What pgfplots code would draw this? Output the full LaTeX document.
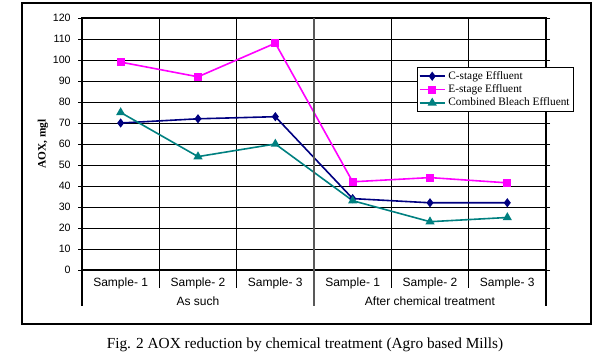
\documentclass[border=0pt]{standalone}
\usepackage{pgfplots}
\pgfplotsset{compat=1.18}
\usepackage{fontspec}
\setmainfont{Liberation Serif}
\setsansfont{Liberation Sans}
\definecolor{cnavy}{RGB}{0,0,128}
\definecolor{cmag}{RGB}{255,0,255}
\definecolor{cteal}{RGB}{0,128,128}
\begin{document}
\begin{tikzpicture}[x=1pt,y=1pt]
\useasboundingbox (0,0) rectangle (456.75,264);
\draw[line width=1.5pt] (16.5,21) rectangle (443.25,261.75);
\begin{axis}[
  at={(61.5pt,61.5pt)}, anchor=south west,
  scale only axis, width=348pt, height=189pt,
  xmin=0, xmax=6, ymin=0, ymax=120,
  ytick={0,10,...,120},
  xtick={0.5,1.5,2.5,3.5,4.5,5.5},
  xticklabels={Sample- 1,Sample- 2,Sample- 3,Sample- 1,Sample- 2,Sample- 3},
  minor xtick={1,2,3,4,5},
  xminorgrids, ymajorgrids,
  grid style={black, line width=0.6pt},
  minor grid style={black, line width=0.6pt},
  major x tick style={draw=none},
  minor x tick style={draw=none},
  y tick style={black, line width=0.6pt},
  ytick align=outside, major tick length=3pt,
  axis line style={black, line width=0.8pt},
  y tick label style={font=\sffamily\fontsize{8}{9}\selectfont, xshift=-2pt},
  x tick label style={font=\sffamily\fontsize{9}{10}\selectfont, yshift=-2pt},
  /pgf/number format/assume math mode=true,
  ylabel={AOX, mgl},
  ylabel style={at={(axis description cs:-0.084,0.5)}, anchor=center, font=\bfseries\fontsize{8.5}{10}\selectfont},
  clip=false,
  legend style={at={(rel axis cs:0.722,0.806)}, anchor=north west,
    font=\fontsize{8.5}{9.5}\selectfont, draw=black, line width=0.6pt,
    inner sep=1pt, row sep=-1.5pt, cells={anchor=west}},
  legend image code/.code={\draw[#1] (0pt,0pt) -- (19pt,0pt); \draw[#1, mark repeat=2, mark phase=2] plot coordinates {(0pt,0pt) (9.5pt,0pt) (19pt,0pt)};},
]
\addplot[cnavy, line width=1.2pt, mark=diamond*, mark size=2.5pt] coordinates {(0.5,70) (1.5,72) (2.5,73) (3.5,34) (4.5,32) (5.5,32)};
\addlegendentry{C-stage Effluent}
\addplot[cmag, line width=1.2pt, mark=square*, mark size=2.4pt] coordinates {(0.5,99) (1.5,92) (2.5,108) (3.5,42) (4.5,44) (5.5,41.5)};
\addlegendentry{E-stage Effluent}
\addplot[cteal, line width=1.2pt, mark=triangle*, mark size=2.8pt] coordinates {(0.5,75) (1.5,54) (2.5,60) (3.5,33) (4.5,23) (5.5,25)};
\addlegendentry{Combined Bleach Effluent}
\draw[gray!70!black, line width=1pt] (axis cs:3,0) -- (axis cs:3,120);
\draw[black, line width=0.8pt] (axis cs:1,0) -- ++(0,-13.5pt);
\draw[black, line width=0.8pt] (axis cs:2,0) -- ++(0,-13.5pt);
\draw[black, line width=0.8pt] (axis cs:4,0) -- ++(0,-13.5pt);
\draw[black, line width=0.8pt] (axis cs:5,0) -- ++(0,-13.5pt);
\draw[black, line width=0.8pt] (axis cs:0,0) -- ++(0,-27pt);
\draw[gray!70!black, line width=1pt] (axis cs:3,0) -- ++(0,-27pt);
\draw[black, line width=0.8pt] (axis cs:6,0) -- ++(0,-27pt);
\node[font=\sffamily\fontsize{9}{10}\selectfont] at ([yshift=-23.25pt]axis cs:1.5,0) {As such};
\node[font=\sffamily\fontsize{9}{10}\selectfont] at ([yshift=-23.25pt]axis cs:4.5,0) {After chemical treatment};
\end{axis}
\node[font=\fontsize{11.5}{13}\selectfont] at (228.75,5.5) {Fig. 2 AOX reduction by chemical treatment (Agro based Mills)};
\end{tikzpicture}
\end{document}
